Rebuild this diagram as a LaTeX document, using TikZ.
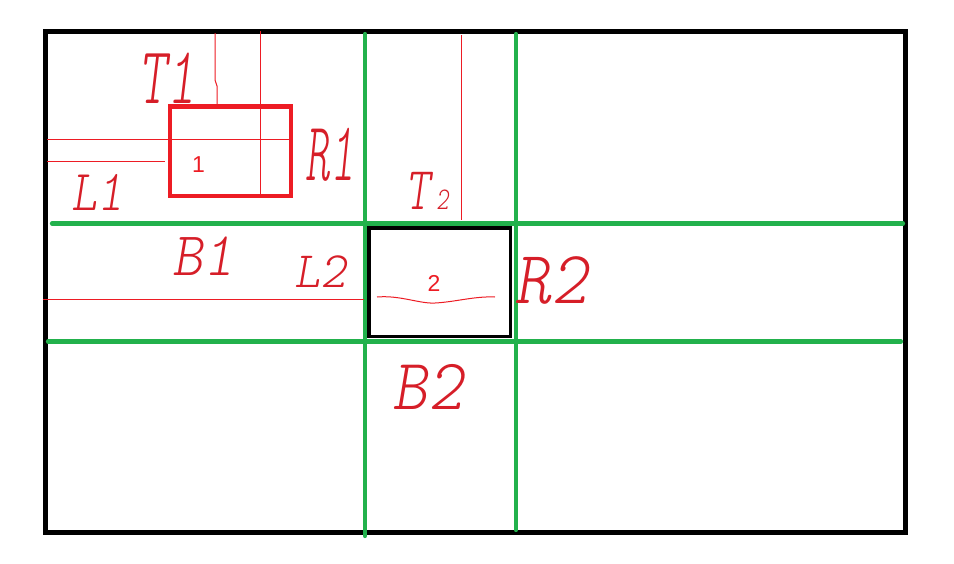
\documentclass[tikz,border=0pt]{standalone}
\usepackage{fontspec}
\newfontfamily\hand[FakeSlant=0.18]{lmmonolt10-regular.otf}
\newfontfamily\digitfont{Liberation Sans}
\definecolor{pRed}{RGB}{237,28,36}
\definecolor{pGreen}{RGB}{34,177,76}
\definecolor{hRed}{RGB}{214,30,40}
\newcommand\handlbl[3]{\scalebox{#1}[#2]{#3}}
\begin{document}
\begin{tikzpicture}[x=1pt,y=-1pt,
  frame/.style={draw=black,line width=5pt},
  gridline/.style={draw=pGreen,line width=4.2pt,line cap=round},
  redbox/.style={draw=pRed,line width=4.5pt},
  blackbox/.style={draw=black,line width=3.8pt},
  thin/.style={draw=pRed,line width=1pt},
  label/.style={text=hRed,font=\hand\fontsize{58}{58}\selectfont,inner sep=0pt,anchor=center},
  num/.style={text=pRed,font=\digitfont\fontsize{23}{23}\selectfont,inner sep=0pt,anchor=center}]
\useasboundingbox (0,0) rectangle (954,563);
\fill[white] (0,0) rectangle (954,563);
% outer frame
\draw[frame] (45.5,31.5) rectangle (905.5,532.5);
% green grid
\coordinate (v1t) at (365,34);  \coordinate (v1b) at (365,536);
\coordinate (v2t) at (516,34);  \coordinate (v2b) at (516,530);
\coordinate (h1l) at (52,223.5); \coordinate (h1r) at (903,223.5);
\coordinate (h2l) at (48,341.5); \coordinate (h2r) at (901,341.5);
\draw[gridline] (v1t) -- (v1b);
\draw[gridline] (v2t) -- (v2b);
\draw[gridline] (h1l) -- (h1r);
\draw[gridline] (h2l) -- (h2r);
% thin red construction lines for box 1
\coordinate (a1) at (47,139);  \coordinate (a2) at (290,139);
\coordinate (b1) at (47,161);  \coordinate (b2) at (165,161);
\coordinate (c1) at (260,31);  \coordinate (c2) at (260,196);
\coordinate (d1) at (215,33);  \coordinate (d2) at (215,80);
\coordinate (d3) at (217,86);  \coordinate (d4) at (217,106);
\draw[thin] (a1) -- (a2);
\draw[thin] (b1) -- (b2);
\draw[thin] (c1) -- (c2);
\draw[thin] (d1) -- (d2) -- (d3) -- (d4);
% red box 1
\draw[redbox] (170,106.5) rectangle (291,196);
\node[num] (n1) at (198.5,165) {1};
% box 2 and its construction lines
\coordinate (e1) at (461,35);  \coordinate (e2) at (461,220);
\coordinate (f1) at (43,299);  \coordinate (f2) at (364,299);
\draw[thin] (e1) -- (e2);
\draw[thin] (f1) -- (f2);
\draw[blackbox] (369,228) rectangle (510.5,336.5);
\coordinate (w1) at (377,297); \coordinate (w2) at (495,297);
\draw[thin] (w1) .. controls (400,295) and (420,304) .. (435,303)
  .. controls (455,302) and (475,296) .. (w2);
\node[num] (n2) at (434,283) {2};
% handwritten labels
\node[label] (T1) at (167,78) {\handlbl{0.92}{1.4}{T1}};
\node[label] (R1) at (330,155) {\handlbl{0.8}{1.45}{R1}};
\node[label] (L1) at (97,192) {\handlbl{0.85}{1.0}{L1}};
\node[label] (T2) at (427,191) {\handlbl{0.8}{1.05}{T\kern8pt{\fontsize{30}{30}\selectfont 2}}};
\node[label] (B1) at (203,256) {\handlbl{1.0}{1.07}{B1}};
\node[label] (L2) at (320,272) {\handlbl{0.85}{0.88}{L2}};
\node[label] (R2) at (551,280) {\handlbl{1.2}{1.3}{R2}};
\node[label] (B2) at (428,387) {\handlbl{1.15}{1.25}{B2}};
\end{tikzpicture}
\end{document}
